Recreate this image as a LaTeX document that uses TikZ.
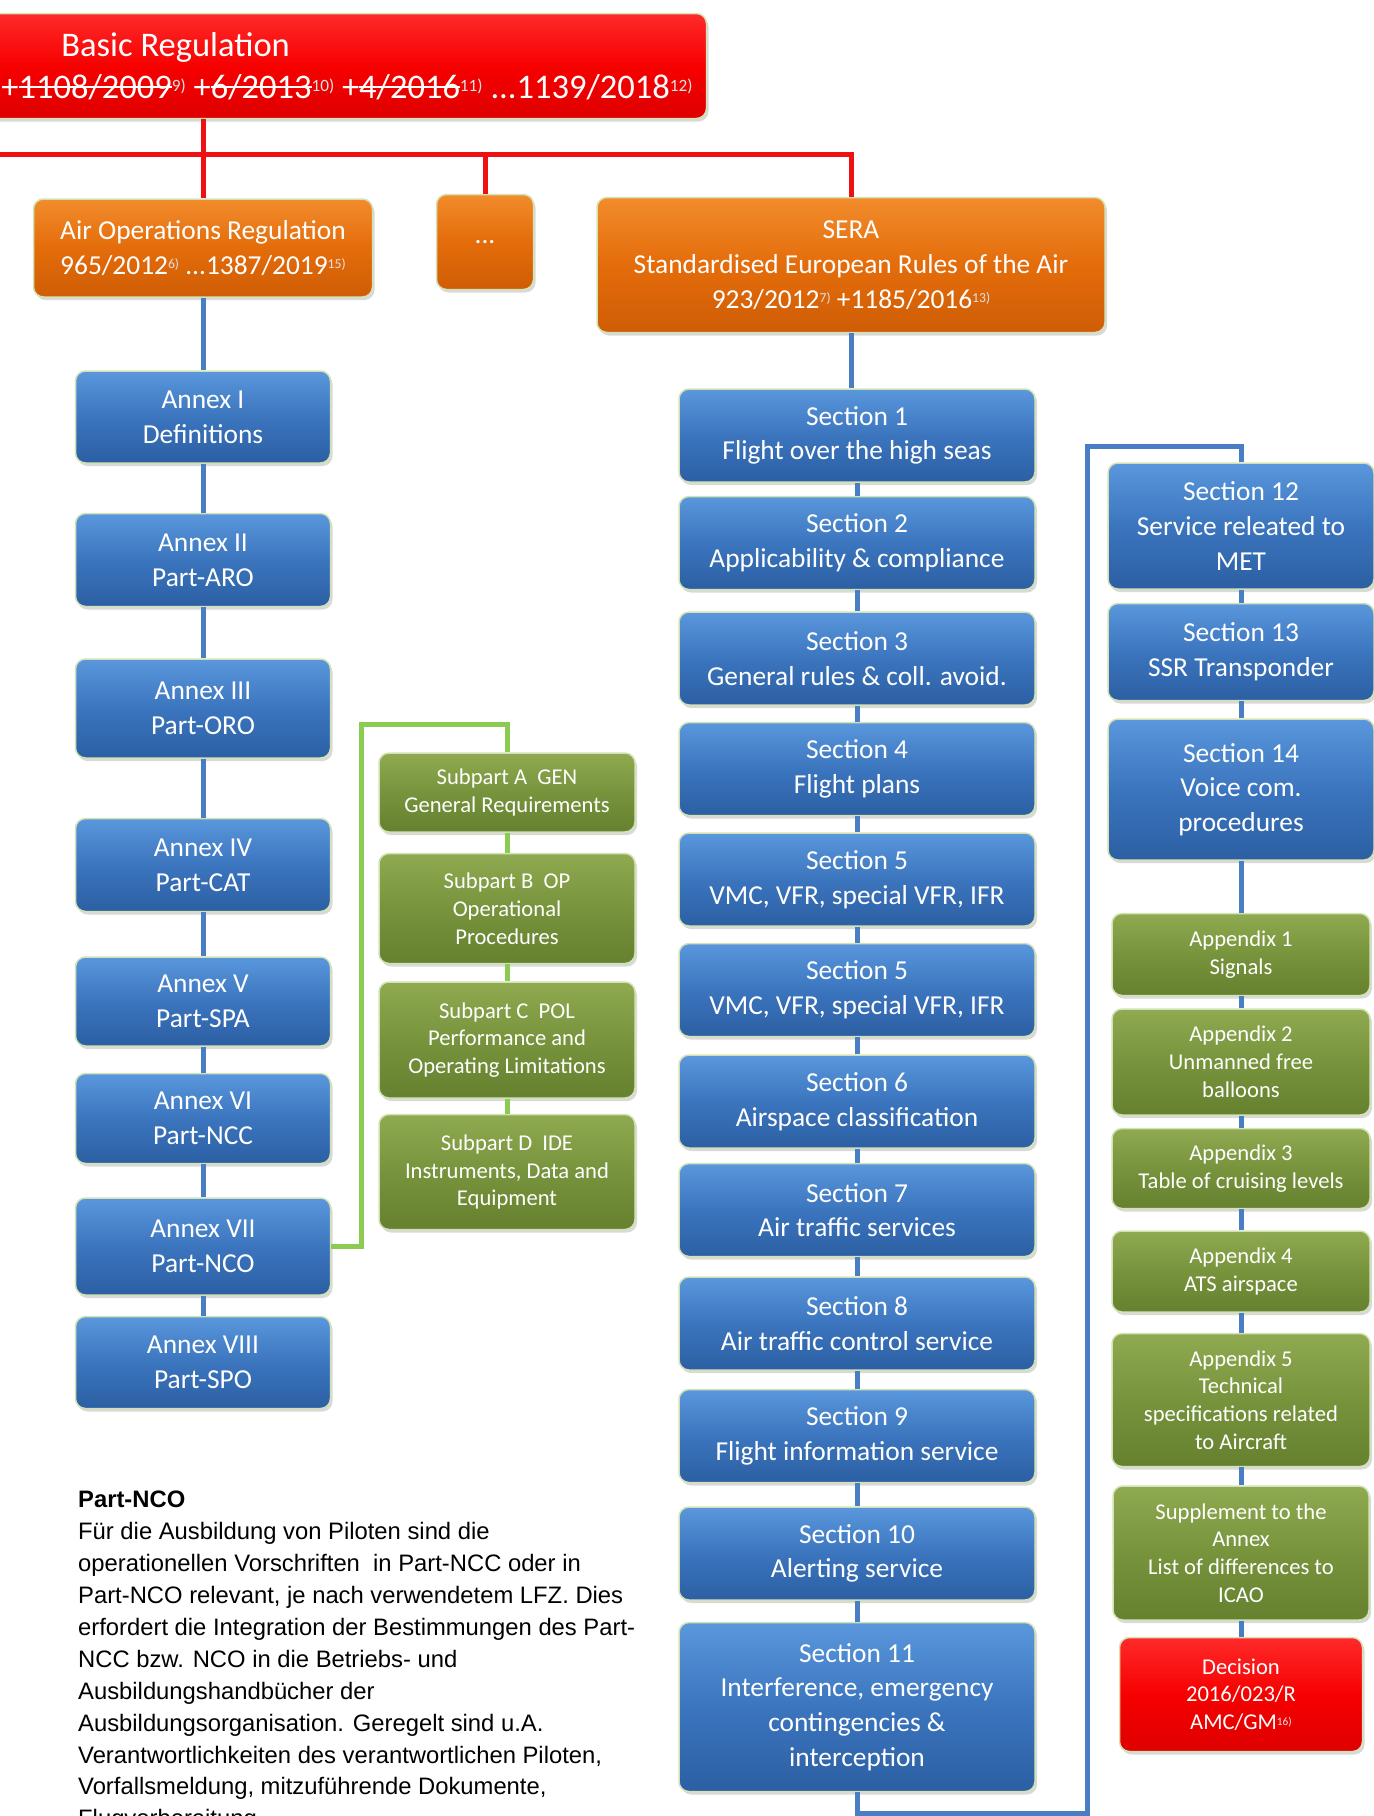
\documentclass[tikz,border=0pt]{standalone}
\usepackage{fontspec}
\usepackage{tikz}
\usetikzlibrary{positioning,shadows}

\newfontfamily\carlito{Carlito}
\newfontfamily\arialike{Liberation Sans}

\definecolor{redTop}{HTML}{FF2A2A}
\definecolor{redMid}{HTML}{F70000}
\definecolor{redBot}{HTML}{DE0000}
\definecolor{orgTop}{HTML}{F28C2C}
\definecolor{orgMid}{HTML}{E46C0A}
\definecolor{orgBot}{HTML}{CF5D06}
\definecolor{bluTop}{HTML}{5A97DC}
\definecolor{bluMid}{HTML}{3B75BE}
\definecolor{bluBot}{HTML}{2C5FA3}
\definecolor{grnTop}{HTML}{8FAA50}
\definecolor{grnMid}{HTML}{77933C}
\definecolor{grnBot}{HTML}{66812F}
\definecolor{boxEdge}{HTML}{D3E2B4}
\definecolor{lineBlue}{HTML}{4A7EC4}
\definecolor{lineGreen}{HTML}{8CCB52}
\definecolor{lineRed}{HTML}{EE1111}
\definecolor{fnGrey}{HTML}{E2E2E2}

\newcommand{\headfont}{\carlito\fontsize{34.5}{42}\selectfont}
\newcommand{\boxfont}{\carlito\fontsize{27.4}{34.7}\selectfont}
\newcommand{\smallfont}{\carlito\fontsize{22.6}{27.8}\selectfont}
\newcommand{\bodyfont}{\arialike\fontsize{23.8}{31.9}\selectfont}
\newcommand{\struck}[1]{\sbox0{#1}\rlap{\rule[0.3em]{\wd0}{1.6pt}}\usebox0}
\newcommand{\fnote}[1]{{\fontsize{0.5em}{1em}\selectfont\color{fnGrey}\raisebox{0.4em}{#1}}}

\begin{document}
\begin{tikzpicture}[
      x=1pt, y=-1pt,
      every node/.style={
        align=center, inner sep=0pt
      },
      regbox/.style={draw=boxEdge, line width=1.5pt, rounded corners=10pt, text=white,
        drop shadow={opacity=0.3, shadow xshift=2pt, shadow yshift=-3pt}},
      redbox/.style={regbox, top color=redTop, bottom color=redBot, middle color=redMid},
      orgbox/.style={regbox, top color=orgTop, bottom color=orgBot, middle color=orgMid, font=\boxfont},
      blubox/.style={regbox, top color=bluTop, bottom color=bluBot, middle color=bluMid, font=\boxfont},
      grnbox/.style={regbox, top color=grnTop, bottom color=grnBot, middle color=grnMid, font=\smallfont},
      annexbox/.style={blubox, minimum width=255pt},
      secbox/.style={blubox, minimum width=356pt, minimum height=93pt},
      rsecbox/.style={blubox, minimum width=266pt},
      subbox/.style={grnbox, minimum width=256pt},
      appbox/.style={grnbox, minimum width=258pt},
      redline/.style={draw=lineRed, line width=5pt},
      blueline/.style={draw=lineBlue, line width=5pt},
      greenline/.style={draw=lineGreen, line width=5pt}
    ]
    \useasboundingbox (0,0) rectangle (1374,1816);
    \clip (0,0) rectangle (1374,1816);

    % Top row
    \node (basic) [redbox, font=\headfont, align=left, minimum width=719pt, minimum height=105pt] at (347,66)
      {\hspace*{60pt}Basic Regulation\\+\struck{1108/2009}\fnote{9)} +\struck{6/2013}\fnote{10)} +\struck{4/2016}\fnote{11)} ...1139/2018\fnote{12)}};
    \node (airops) [orgbox, minimum width=339pt, minimum height=98pt] at (203,248)
      {Air Operations Regulation\\965/2012\fnote{6)} ...1387/2019\fnote{15)}};
    \node (dots) [orgbox, minimum width=97pt, minimum height=95pt] at (485,242) {...};
    \node (sera) [orgbox, minimum width=508pt, minimum height=135pt] at (851,265)
      {SERA\\Standardised European Rules of the Air\\923/2012\fnote{7)} +1185/2016\fnote{13)}};
    \coordinate (busleft) at (0,154);

    % Annex column
    \node (an1) [annexbox, minimum height=92pt] at (203,417) {Annex I\\Definitions};
    \node (an2) [annexbox, minimum height=93pt, below=49pt of an1] {Annex II\\Part-ARO};
    \node (an3) [annexbox, minimum height=99pt, below=51pt of an2] {Annex III\\Part-ORO};
    \node (an4) [annexbox, minimum height=93pt, below=59pt of an3] {Annex IV\\Part-CAT};
    \node (an5) [annexbox, minimum height=89pt, below=44pt of an4] {Annex V\\Part-SPA};
    \node (an6) [annexbox, minimum height=90pt, below=26pt of an5] {Annex VI\\Part-NCC};
    \node (an7) [annexbox, minimum height=97pt, below=33pt of an6] {Annex VII\\Part-NCO};
    \node (an8) [annexbox, minimum height=92pt, below=20pt of an7] {Annex VIII\\Part-SPO};

    % Subparts of Part-NCO
    \node (sbA) [subbox, minimum height=79pt] at (507,792.5) {Subpart A\ \ GEN\\General Requirements};
    \node (sbB) [subbox, minimum height=110pt, below=20pt of sbA] {Subpart B\ \ OP\\Operational\\Procedures};
    \node (sbC) [subbox, minimum height=116pt, below=17pt of sbB] {Subpart C\ \ POL\\Performance and\\Operating Limitations};
    \node (sbD) [subbox, minimum height=115pt, below=15pt of sbC] {Subpart D\ \ IDE\\Instruments, Data and\\Equipment};

    % SERA sections
    \node (s1) [secbox] at (857,435.5) {Section 1\\Flight over the high seas};
    \node (s2) [secbox, below=13pt of s1] {Section 2\\Applicability \& compliance};
    \node (s3) [secbox, below=21pt of s2] {Section 3\\General rules \& coll. avoid.};
    \node (s4) [secbox, below=16pt of s3] {Section 4\\Flight plans};
    \node (s5) [secbox, below=16pt of s4] {Section 5\\VMC, VFR, special VFR, IFR};
    \node (s5b) [secbox, below=16pt of s5] {Section 5\\VMC, VFR, special VFR, IFR};
    \node (s6) [secbox, below=17pt of s5b] {Section 6\\Airspace classification};
    \node (s7) [secbox, below=14pt of s6] {Section 7\\Air traffic services};
    \node (s8) [secbox, below=19pt of s7] {Section 8\\Air traffic control service};
    \node (s9) [secbox, below=18pt of s8] {Section 9\\Flight information service};
    \node (s10) [secbox, below=23pt of s9] {Section 10\\Alerting service};
    \node (s11) [secbox, minimum height=169pt, below=21pt of s10]
      {Section 11\\Interference, emergency\\contingencies \&\\interception};

    % Right column
    \node (s12) [rsecbox, minimum height=126pt] at (1241,526) {Section 12\\Service releated to\\MET};
    \node (s13) [rsecbox, minimum height=97pt, below=13pt of s12] {Section 13\\SSR Transponder};
    \node (s14) [rsecbox, minimum height=141pt, below=17pt of s13] {Section 14\\Voice com.\\procedures};
    \node (app1) [appbox, minimum height=82pt, below=52pt of s14] {Appendix 1\\Signals};
    \node (app2) [appbox, minimum height=106pt, below=12pt of app1] {Appendix 2\\Unmanned free\\balloons};
    \node (app3) [appbox, minimum height=80pt, below=12pt of app2] {Appendix 3\\Table of cruising levels};
    \node (app4) [appbox, minimum height=81pt, below=21pt of app3] {Appendix 4\\ATS airspace};
    \node (app5) [appbox, minimum height=133pt, below=20pt of app4] {Appendix 5\\Technical\\specifications related\\to Aircraft};
    \node (supp) [grnbox, minimum width=256pt, minimum height=134pt, below=18pt of app5]
      {Supplement to the\\Annex\\List of differences to\\ICAO};
    \node (dec) [redbox, font=\smallfont, minimum width=243pt, minimum height=114pt, below=16pt of supp]
      {Decision\\2016/023/R\\AMC/GM\fnote{16)}};
    \coordinate (loopbot) at (1087,1813);
    \coordinate (looptop) at (1087,446);

    % Text block
    \node (ncotext) [anchor=north west, align=left, font=\bodyfont] at (78,1491)
      {\textbf{Part-NCO}\\
       Für die Ausbildung von Piloten sind die\\
       operationellen Vorschriften \ in Part-NCC oder in\\
       Part-NCO relevant, je nach verwendetem LFZ. Dies\\
       erfordert die Integration der Bestimmungen des Part-\\
       NCC bzw. NCO in die Betriebs- und\\
       Ausbildungshandbücher der\\
       Ausbildungsorganisation. Geregelt sind u.A.\\
       Verantwortlichkeiten des verantwortlichen Piloten,\\
       Vorfallsmeldung, mitzuführende Dokumente,\\
       Flugvorbereitung};

    % Red connectors
    \draw[redline] (basic.south -| airops.north) -- (airops.north);
    \draw[redline] (busleft) -- (busleft -| sera.north) -- (sera.north);
    \draw[redline] (busleft -| dots.north) -- (dots.north);

    % Blue connectors, annex column
    \draw[blueline] (airops) -- (an1);
    \draw[blueline] (an1) -- (an2);
    \draw[blueline] (an2) -- (an3);
    \draw[blueline] (an3) -- (an4);
    \draw[blueline] (an4) -- (an5);
    \draw[blueline] (an5) -- (an6);
    \draw[blueline] (an6) -- (an7);
    \draw[blueline] (an7) -- (an8);

    % Green connectors
    \draw[greenline] (an7.east) -- ++(30,0) |- (sbA.north |- 0,724) -- (sbA.north);
    \draw[greenline] (sbA) -- (sbB);
    \draw[greenline] (sbB) -- (sbC);
    \draw[greenline] (sbC) -- (sbD);

    % Blue connectors, SERA
    \draw[blueline] (sera.south) -- (sera.south |- s1.north);
    \draw[blueline] (s1) -- (s2);
    \draw[blueline] (s2) -- (s3);
    \draw[blueline] (s3) -- (s4);
    \draw[blueline] (s4) -- (s5);
    \draw[blueline] (s5) -- (s5b);
    \draw[blueline] (s5b) -- (s6);
    \draw[blueline] (s6) -- (s7);
    \draw[blueline] (s7) -- (s8);
    \draw[blueline] (s8) -- (s9);
    \draw[blueline] (s9) -- (s10);
    \draw[blueline] (s10) -- (s11);
    \draw[blueline] (s11.south) |- (loopbot) -- (looptop) -| (s12.north);
    \draw[blueline] (s12) -- (s13);
    \draw[blueline] (s13) -- (s14);
    \draw[blueline] (s14) -- (app1);
    \draw[blueline] (app1) -- (app2);
    \draw[blueline] (app2) -- (app3);
    \draw[blueline] (app3) -- (app4);
    \draw[blueline] (app4) -- (app5);
    \draw[blueline] (app5) -- (supp);
    \draw[blueline] (supp) -- (dec);
  \end{tikzpicture}
\end{document}
